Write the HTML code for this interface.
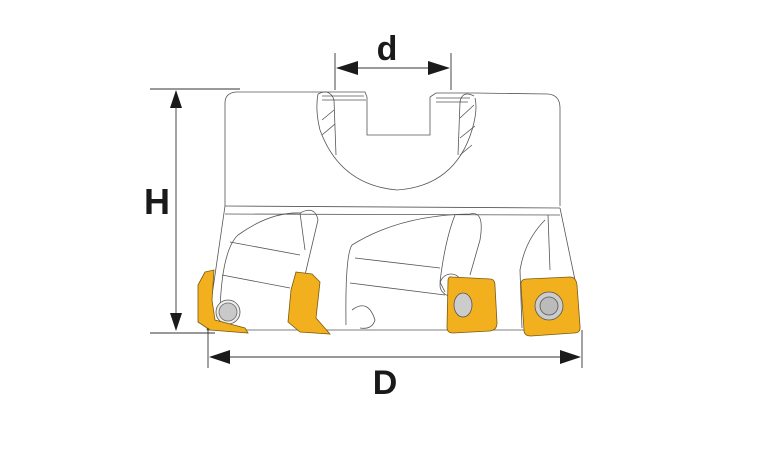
<!DOCTYPE html>
<html><head><meta charset="utf-8"><style>
html,body{margin:0;padding:0;background:#fff;}
svg{display:block}
text{font-family:"Liberation Sans",sans-serif;font-weight:bold;fill:#1a1a1a}
</style></head><body>
<svg width="770" height="458" viewBox="0 0 770 458" xmlns="http://www.w3.org/2000/svg">
<g fill="none" stroke="#555" stroke-width="0.8">
<!-- body outline -->
<path d="M225,206 L225,103 Q225,93 236,92 L318,92 M367,97 L367,135 L430,135 L430,97 M475,93 L548,94 Q560,95 560,108 L560,206"/>
<path d="M318,92 L365,92 L367,97 M430,97 L436,93 L475,93"/>
<path d="M322,96 L364,96 M322,100 L366,100 M436,98 L470,98 M436,102 L468,102"/>
<!-- big arc -->
<path d="M318,94 Q315,110 320,130 Q340,185 397,190 Q455,186 472,130 Q478,110 475,98"/>
<path d="M318,94 Q330,88 334,100 L336,155 M458,155 L460,102 Q462,90 474,96"/>
<path d="M322,120 L334,110 M322,135 L335,124 M460,118 L474,105 M460,138 L475,126 M460,155 L472,145"/>
<!-- lower section -->
<path d="M225,206 L560,208 M225,214 L560,215"/>
<path d="M225,206 L207,330 M560,208 L575,280"/>
<path d="M207,330 L580,330"/>
<path d="M238,235 Q270,212 300,213 Q315,205 318,220 L305,275"/>
<path d="M238,235 Q222,250 220,310 M230,242 L300,255 M222,275 L290,288"/>
<path d="M300,213 L305,250"/>
<path d="M352,245 Q400,215 470,214 Q485,210 480,240 L470,275 M352,245 Q345,255 346,325 M355,258 L440,268 M350,283 L445,295"/>
<path d="M455,215 Q445,240 440,282 L445,292"/>
<path d="M545,220 Q525,240 520,270 L522,328 M548,215 L550,270"/>
<circle cx="451" cy="285" r="11"/>
<path d="M352,310 Q368,298 375,320 Q372,330 360,328"/>
</g>
<!-- screw left -->
<circle cx="228" cy="312" r="12" fill="#eee" stroke="#555" stroke-width="0.8"/>
<circle cx="228" cy="312" r="9" fill="#c9c9c9" stroke="#666" stroke-width="0.8"/>
<!-- inserts -->
<g fill="#f2b01e" stroke="#7a5a10" stroke-width="0.8">
<path d="M205,272 L214,270 L212,300 L215,320 L245,328 L248,333 L210,330 L198,322 L198,285 Z"/>
<path d="M296,272 L312,274 L320,282 L316,318 L330,334 L300,332 L288,322 L291,290 Z"/>
<path d="M452,277 Q448,276 448,281 L447,327 Q447,333 453,333 L490,331 Q497,330 497,323 L495,286 Q495,279 490,279 Z"/>
<path d="M527,279 Q520,279 521,286 L524,330 Q524,336 531,336 L574,333 Q581,333 580,326 L577,285 Q576,277 570,277 Z"/>
</g>
<g fill="#ccc" stroke="#555" stroke-width="0.8">
<ellipse cx="463" cy="305" rx="9" ry="12"/>
<circle cx="549" cy="306" r="14"/>
<circle cx="549" cy="306" r="9" fill="#bbb"/>
</g>
<!-- dimension lines -->
<g stroke="#333" stroke-width="0.9" fill="none">
<line x1="150" y1="89" x2="240" y2="89"/>
<line x1="150" y1="333" x2="215" y2="333"/>
<line x1="176" y1="100" x2="176" y2="322"/>
<line x1="335" y1="53" x2="335" y2="90"/>
<line x1="451" y1="53" x2="451" y2="90"/>
<line x1="345" y1="68" x2="441" y2="68"/>
<line x1="208" y1="328" x2="208" y2="368"/>
<line x1="582" y1="330" x2="582" y2="368"/>
<line x1="220" y1="357" x2="570" y2="357"/>
</g>
<g fill="#1a1a1a">
<polygon points="176,90 170,108 182,108"/>
<polygon points="176,331 170,313 182,313"/>
<polygon points="336,68 358,61 358,75"/>
<polygon points="450,68 428,61 428,75"/>
<polygon points="209,357 230,350 230,364"/>
<polygon points="581,357 560,350 560,364"/>
</g>
<text x="387" y="60" font-size="34" text-anchor="middle">d</text>
<text x="157" y="214" font-size="36" text-anchor="middle">H</text>
<text x="385" y="394" font-size="34" text-anchor="middle">D</text>
</svg>
</body></html>
